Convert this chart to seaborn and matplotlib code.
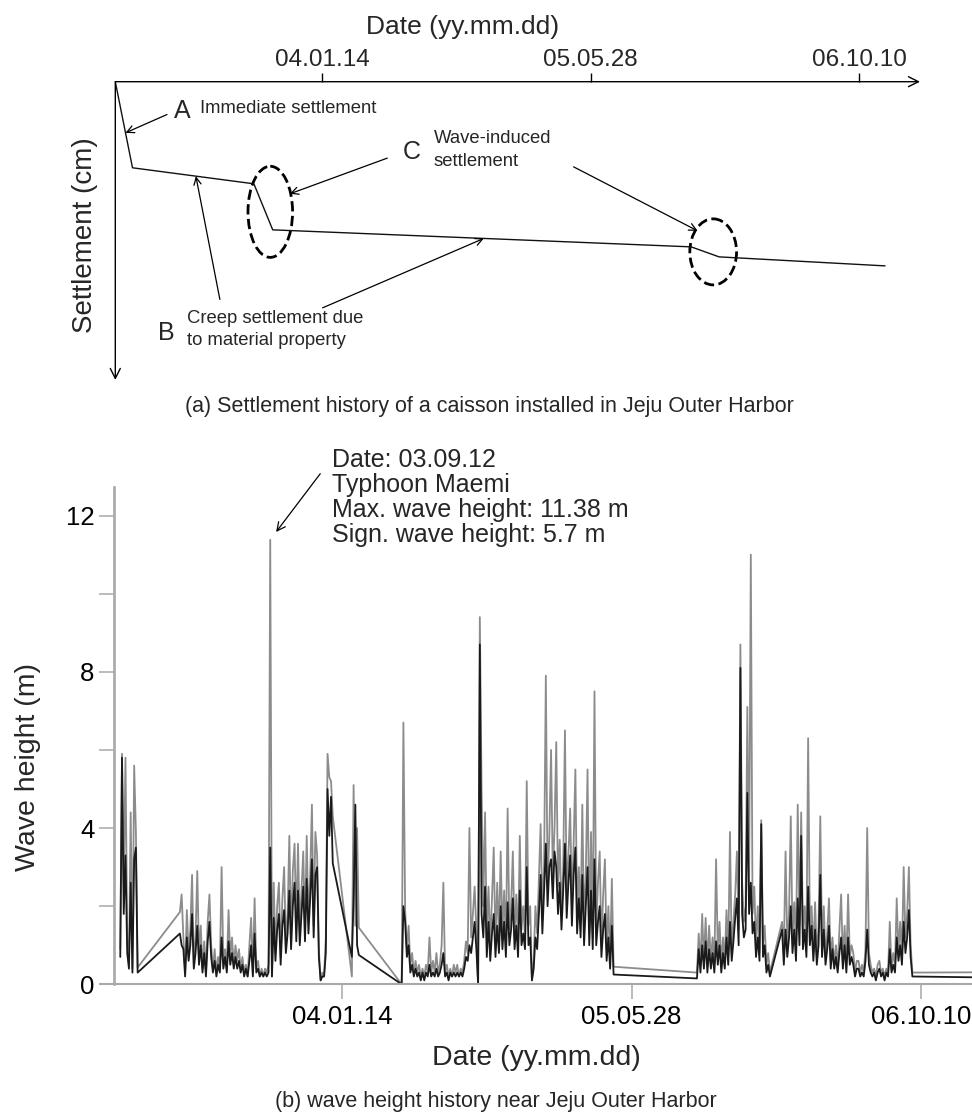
import numpy as np
import pandas as pd
import matplotlib
matplotlib.use("Agg")
import matplotlib.pyplot as plt
import matplotlib.dates as mdates
from matplotlib.patches import Ellipse
import seaborn as sns

# ---------------- data: (a) schematic settlement history ----------------
settle_dates = ["2002-12-25", "2003-01-26", "2003-09-09", "2003-10-14",
                "2005-12-01", "2006-01-22", "2006-11-27"]
settle_cm = [0.0, 8.6, 10.2, 14.8, 16.5, 17.5, 18.4]

top_ticks = ["2004-01-14", "2005-05-28", "2006-10-10"]

# ---------------- data: (b) wave height history (3-day samples per record) ----------------
seg_starts = ["2002-12-27", "2003-04-09", "2004-01-31", "2004-04-26", "2005-09-18", "2006-02-12"]

hmax1 = [0.9, 5.9, 2.5, 5.8, 1.2, 0.5, 4.4, 0.4, 5.6, 3.9, 0.43]
hs1 = [0.7, 5.8, 1.8, 3.3, 0.8, 0.4, 2.6, 0.3, 3.2, 3.5, 0.3]

hmax2 = [1.85, 2.3, 1.2, 0.3, 1.9, 0.8, 1.4, 2.8, 0.5, 1.2,
         2.9, 0.7, 1.5, 0.4, 1.1, 0.3, 1.6, 2.3, 1.0, 0.4,
         0.9, 0.3, 0.7, 0.4, 3.0, 0.6, 0.9, 0.4, 1.9, 0.7,
         1.2, 0.5, 1.0, 0.6, 0.9, 0.4, 0.7, 0.3, 0.5, 0.2,
         1.0, 1.7, 0.3, 2.2, 0.4, 0.6, 0.2, 0.4, 0.2, 0.4,
         0.3, 0.5, 11.38, 0.2, 2.6, 0.8, 2.0, 2.6, 0.7, 2.2,
         3.0, 1.0, 1.8, 3.8, 1.2, 2.9, 3.6, 1.5, 3.6, 1.3,
         2.4, 3.4, 1.4, 3.8, 1.6, 2.8, 4.6, 1.5, 3.9, 3.3,
         0.9, 0.1, 0.3, 0.2, 1.2, 5.9, 5.3, 5.2, 4.3]
hs2 = [1.3, 1.0, 0.9, 0.2, 1.2, 0.6, 1.0, 1.8, 0.4, 0.8,
       1.5, 0.5, 1.0, 0.3, 0.8, 0.2, 1.1, 1.6, 0.7, 0.3,
       0.6, 0.2, 0.5, 0.3, 1.2, 0.4, 0.7, 0.3, 1.1, 0.5,
       0.8, 0.4, 0.7, 0.4, 0.6, 0.3, 0.5, 0.2, 0.4, 0.2,
       0.6, 1.0, 0.2, 1.3, 0.3, 0.4, 0.2, 0.3, 0.2, 0.3,
       0.2, 0.3, 3.5, 0.2, 1.7, 0.6, 1.4, 1.8, 0.5, 1.5,
       1.9, 0.8, 1.3, 2.4, 0.9, 2.0, 2.6, 1.1, 2.4, 1.0,
       1.8, 2.5, 1.1, 2.7, 1.3, 2.2, 3.2, 1.2, 2.8, 3.0,
       0.7, 0.1, 0.2, 0.2, 0.8, 5.0, 3.8, 4.8, 3.1]

hmax3 = [0.2, 5.1, 1.5, 4.0, 1.45]
hs3 = [0.7, 2.2, 4.6, 1.0, 0.75]

hmax4 = [0.0,
         6.7, 1.9, 0.9, 1.5, 0.5, 0.8, 0.3, 0.6, 0.3, 0.5,
         0.2, 0.4, 0.2, 0.5, 0.3, 1.2, 0.3, 0.6, 0.3, 0.8,
         0.3, 0.5, 1.0, 2.6, 0.3, 0.5, 0.2, 0.4, 0.2, 0.5,
         0.3, 0.5, 0.2, 0.4, 0.3, 0.6, 1.1, 0.8, 4.0, 1.2,
         1.8, 2.5, 1.4, 0.0, 9.4, 5.0, 2.0, 4.4, 1.2, 2.5,
         1.0, 2.2, 3.5, 1.0, 2.6, 1.2, 3.4, 1.3, 2.4, 1.0,
         4.5, 1.4, 2.0, 3.4, 1.2, 2.3, 1.0, 3.8, 1.4, 2.0,
         1.2, 5.2, 1.5, 2.0, 0.1, 0.6, 2.0, 1.3, 2.7, 4.1,
         1.8, 3.1, 7.9, 2.5, 3.8, 6.0, 2.8, 4.0, 6.2, 2.5,
         3.7, 1.8, 3.0, 6.5, 2.2, 3.3, 4.5, 2.0, 3.6, 5.5,
         1.8, 3.0, 1.6, 4.6, 1.5, 2.8, 5.5, 1.3, 3.9, 1.2,
         7.5, 1.4, 2.6, 3.4, 1.0, 2.3, 3.2, 0.9, 2.0, 0.6,
         2.7, 0.45]
hs4 = [0.0,
       2.0, 1.6, 0.7, 1.0, 0.3, 0.5, 0.2, 0.4, 0.2, 0.3,
       0.1, 0.3, 0.1, 0.3, 0.2, 0.5, 0.2, 0.3, 0.2, 0.4,
       0.2, 0.3, 0.5, 0.8, 0.2, 0.3, 0.1, 0.3, 0.2, 0.3,
       0.2, 0.3, 0.2, 0.3, 0.2, 0.4, 0.7, 0.6, 1.0, 0.8,
       1.2, 1.6, 0.9, 0.0, 8.7, 1.8, 1.2, 2.5, 0.7, 1.6,
       0.6, 1.3, 1.8, 0.7, 1.5, 0.8, 2.0, 0.9, 1.6, 0.7,
       2.1, 1.0, 1.4, 2.2, 0.9, 1.5, 0.7, 2.4, 1.0, 1.3,
       0.9, 3.0, 1.0, 1.2, 0.1, 0.4, 1.2, 0.9, 1.8, 2.8,
       1.3, 2.4, 3.6, 2.0, 3.0, 3.2, 2.2, 3.4, 3.0, 1.8,
       2.6, 1.4, 2.4, 3.6, 1.7, 2.6, 3.3, 1.5, 2.8, 3.5,
       1.3, 2.2, 1.2, 2.8, 1.0, 2.0, 3.0, 1.0, 2.4, 0.9,
       3.2, 1.0, 1.6, 2.0, 0.7, 1.4, 1.8, 0.6, 1.2, 0.4,
       1.5, 0.25]

hmax5 = [0.3, 1.3, 0.5, 1.8, 0.6, 1.7, 0.5, 1.5, 0.6, 1.2,
         0.5, 3.2, 0.8, 1.6, 0.5, 1.2, 0.6, 1.9, 0.7, 3.9,
         0.8, 1.6, 2.3, 3.4, 1.4, 8.7, 2.6, 1.6, 2.0, 7.1,
         2.4, 11.0, 1.8, 2.5, 1.0, 2.0, 0.8, 4.2, 1.0, 1.5,
         0.5, 0.8, 0.3]
hs5 = [0.15, 0.9, 0.3, 1.0, 0.4, 1.1, 0.3, 0.9, 0.4, 0.8,
       0.3, 1.1, 0.5, 1.0, 0.3, 0.8, 0.4, 1.2, 0.5, 1.6,
       0.6, 1.1, 1.7, 2.2, 1.0, 8.1, 1.8, 1.2, 1.4, 4.9,
       1.8, 2.6, 1.3, 1.6, 0.7, 1.2, 0.6, 4.1, 0.7, 1.0,
       0.3, 0.5, 0.2]

hmax6 = [1.6, 0.8, 3.4, 1.0, 1.8, 4.3, 1.2, 2.1, 0.9, 4.6,
         1.5, 4.4, 1.3, 2.0, 1.0, 6.3, 1.4, 2.0, 0.8, 2.1,
         0.7, 1.5, 4.3, 1.0, 2.0, 0.7, 1.3, 2.2, 0.6, 1.2,
         0.5, 1.0, 0.4, 1.4, 2.3, 0.6, 1.5, 0.5, 2.3, 0.7,
         1.0, 0.8, 0.3, 0.6, 0.6, 0.3, 0.5, 0.3, 0.9, 4.0,
         0.8, 0.5, 0.3, 0.4, 0.2, 0.5, 0.6, 0.3, 0.4, 0.2,
         0.4, 0.3, 1.6, 0.4, 0.8, 0.5, 2.2, 0.8, 1.6, 0.7,
         3.0, 1.2, 1.8, 3.0, 1.0, 0.3]
hs6 = [1.4, 0.5, 1.4, 0.7, 1.2, 2.0, 0.8, 1.4, 0.6, 2.2,
       1.0, 3.8, 0.9, 1.4, 0.7, 2.5, 1.0, 1.5, 0.6, 1.4,
       0.5, 1.0, 2.8, 0.7, 1.4, 0.5, 0.9, 1.5, 0.4, 0.9,
       0.4, 0.7, 0.3, 0.8, 1.2, 0.4, 1.0, 0.3, 1.2, 0.5,
       0.7, 0.5, 0.2, 0.4, 0.4, 0.2, 0.3, 0.2, 0.6, 1.4,
       0.5, 0.3, 0.2, 0.3, 0.1, 0.3, 0.4, 0.2, 0.3, 0.1,
       0.3, 0.2, 0.9, 0.3, 0.5, 0.3, 1.2, 0.6, 1.0, 0.5,
       1.6, 0.8, 1.2, 1.9, 0.7, 0.2]

tail_date = "2007-02-24"
tail_hmax = 0.31
tail_hs = 0.17

bottom_ticks = ["2004-01-14", "2005-05-28", "2006-10-10"]
typhoon_date = "2003-09-12"
typhoon_hmax = 11.38
typhoon_text = ["Date: 03.09.12", "Typhoon Maemi",
                "Max. wave height: 11.38 m", "Sign. wave height: 5.7 m"]

# ---------------- build table ----------------
rows = []
segs = [(hmax1, hs1), (hmax2, hs2), (hmax3, hs3), (hmax4, hs4), (hmax5, hs5), (hmax6, hs6)]
for start, (hm, hs) in zip(seg_starts, segs):
    d = pd.date_range(start, periods=len(hm), freq="3D")
    rows.append(pd.DataFrame({"date": d, "height": hm, "series": "Hmax"}))
    rows.append(pd.DataFrame({"date": d, "height": hs, "series": "Hs"}))
rows.append(pd.DataFrame({"date": [pd.Timestamp(tail_date)] * 2,
                          "height": [tail_hmax, tail_hs], "series": ["Hmax", "Hs"]}))
df = pd.concat(rows, ignore_index=True)

settle_df = pd.DataFrame({"date": pd.to_datetime(settle_dates), "settle": settle_cm})

# ---------------- style ----------------
sns.set_style("white")
plt.rcParams["font.family"] = ["Liberation Sans", "DejaVu Sans"]

W, H = 972, 1117
fig = plt.figure(figsize=(W / 100, H / 100), dpi=100)


def fx(x):
    return x / W


def fy(y):
    return 1 - y / H


# ================= (a) top panel =================
ax1 = fig.add_axes([fx(115.3), fy(380), fx(920) - fx(115.3), fy(81.7) - fy(380)])
sns.lineplot(data=settle_df, x="date", y="settle", color="#111111", lw=1.0,
             sort=False, estimator=None, ax=ax1)
ax1.set_xlim(pd.Timestamp("2002-12-25"), pd.Timestamp("2007-01-31"))
ax1.set_ylim(29.8, 0)
for s in ax1.spines.values():
    s.set_visible(False)
ax1.patch.set_alpha(0)
ax1.xaxis.tick_top()
ax1.set_xticks(pd.to_datetime(top_ticks))
ax1.xaxis.set_major_formatter(mdates.DateFormatter("%y.%m.%d"))
ax1.tick_params(axis="x", direction="out", length=6.5, width=1.0, color="black",
                labelsize=17.5, pad=1.5, top=True, bottom=False)
ax1.set_yticks([])
ax1.xaxis.set_label_position("top")
ax1.set_xlabel("Date (yy.mm.dd)", fontsize=19)
ax1.xaxis.set_label_coords(0.431, 1.16)
ax1.set_ylabel("Settlement (cm)", fontsize=20, va="center")
ax1.yaxis.set_label_coords(-0.038, 0.486)

arrow_kw = dict(arrowstyle="->", lw=1.0, color="black", shrinkA=0, shrinkB=0, mutation_scale=18)
ax1.annotate("", xy=(1, 1), xytext=(0, 1), xycoords="axes fraction", arrowprops=arrow_kw)
ax1.annotate("", xy=(0, 0), xytext=(0, 1), xycoords="axes fraction", arrowprops=arrow_kw)

# dashed ellipses around the two wave-induced drops
sd = mdates.date2num(settle_df["date"])
for (i, j, dx, dy, w, h) in [(2, 3, 13, 0.5, 83, 9.1), (4, 5, 15, 0.0, 87, 6.6)]:
    cx = (sd[i] + sd[j]) / 2 + dx
    cy = (settle_cm[i] + settle_cm[j]) / 2 + dy
    ax1.add_patch(Ellipse((cx, cy), w, h, fill=False, ec="black", lw=2.0, ls="--"))

# annotation arrows
ann_kw = dict(arrowstyle="->", lw=0.9, color="black", shrinkA=0, shrinkB=0, mutation_scale=13)


def curve_pt(date):
    t = mdates.date2num(pd.Timestamp(date))
    return t, np.interp(t, sd, settle_cm)


for target, off in [(curve_pt("2003-01-13"), (41.5, 18.3)),
                    (curve_pt("2003-05-24"), (24, -123.3)),
                    (curve_pt("2004-11-10"), (-161.2, -69.4)),
                    ((mdates.date2num(pd.Timestamp("2003-11-15")), 11.2), (97.4, 35.7)),
                    ((mdates.date2num(pd.Timestamp("2005-12-13")), 14.9), (-124, 64))]:
    ax1.annotate("", xy=target, xytext=off, textcoords="offset pixels", arrowprops=ann_kw)

fig.text(fx(173.6), fy(118.3), "A", fontsize=18, va="baseline")
fig.text(fx(199.6), fy(113), "Immediate settlement", fontsize=13.3, va="baseline")
fig.text(fx(403), fy(159.3), "C", fontsize=18, va="baseline")
fig.text(fx(434), fy(143), "Wave-induced", fontsize=13.3, va="baseline")
fig.text(fx(434), fy(166), "settlement", fontsize=13.3, va="baseline")
fig.text(fx(158), fy(340), "B", fontsize=18, va="baseline")
fig.text(fx(187), fy(322.7), "Creep settlement due", fontsize=13.3, va="baseline")
fig.text(fx(187), fy(345), "to material property", fontsize=13.3, va="baseline")

fig.text(fx(489), fy(412), "(a) Settlement history of a caisson installed in Jeju Outer Harbor",
         fontsize=15.5, ha="center", va="baseline")

# ================= (b) bottom panel =================
ax2 = fig.add_axes([fx(100), fy(984.3), fx(972) - fx(100), fy(487) - fy(984.3)])
sns.lineplot(data=df, x="date", y="height", hue="series", hue_order=["Hmax", "Hs"],
             palette={"Hmax": "#8c8c8c", "Hs": "#1a1a1a"}, units="series",
             estimator=None, sort=False, legend=False, lw=1.3, ax=ax2)
ax2.set_xlim(pd.Timestamp("2002-11-22"), pd.Timestamp("2007-01-06"))
ax2.set_ylim(0, 12.73)
ax2.patch.set_alpha(0)
for k in ["top", "right"]:
    ax2.spines[k].set_visible(False)
ax2.spines["left"].set_position(("data", mdates.date2num(pd.Timestamp("2002-12-17"))))
ax2.spines["left"].set_color("#a8a8a8")
ax2.spines["left"].set_linewidth(1.9)
ax2.spines["bottom"].set_color("#a8a8a8")
ax2.spines["bottom"].set_linewidth(1.5)

ax2.set_yticks([0, 4, 8, 12])
ax2.set_yticks([2, 6, 10], minor=True)
ax2.set_xticks(pd.to_datetime(bottom_ticks))
ax2.xaxis.set_major_formatter(mdates.DateFormatter("%y.%m.%d"))
ax2.tick_params(axis="both", which="both", direction="out", length=10.8, width=1.1,
                color="#a8a8a8", labelcolor="black", labelsize=18.5)
ax2.tick_params(axis="y", pad=3.5, left=True)
ax2.tick_params(axis="y", which="minor", left=True)
ax2.tick_params(axis="x", pad=4, bottom=True)
ax2.set_xlabel("Date (yy.mm.dd)", fontsize=20.5)
ax2.xaxis.set_label_coords(0.5, -0.122)
ax2.set_ylabel("Wave height (m)", fontsize=20.5, va="center")
ax2.yaxis.set_label_coords(-0.083, 0.436)

# typhoon annotation
ax2.annotate("", xy=(pd.Timestamp(typhoon_date), typhoon_hmax), xytext=(50, 66),
             textcoords="offset pixels",
             arrowprops=dict(arrowstyle="->", lw=0.9, color="black", shrinkA=0, shrinkB=7,
                             mutation_scale=15))
for k, line in enumerate(typhoon_text):
    fig.text(fx(331.7), fy(467 + 25 * k), line, fontsize=18, va="baseline")

fig.text(fx(496), fy(1107), "(b) wave height history near Jeju Outer Harbor",
         fontsize=15.5, ha="center", va="baseline")

fig.savefig("out.png", dpi=100)
